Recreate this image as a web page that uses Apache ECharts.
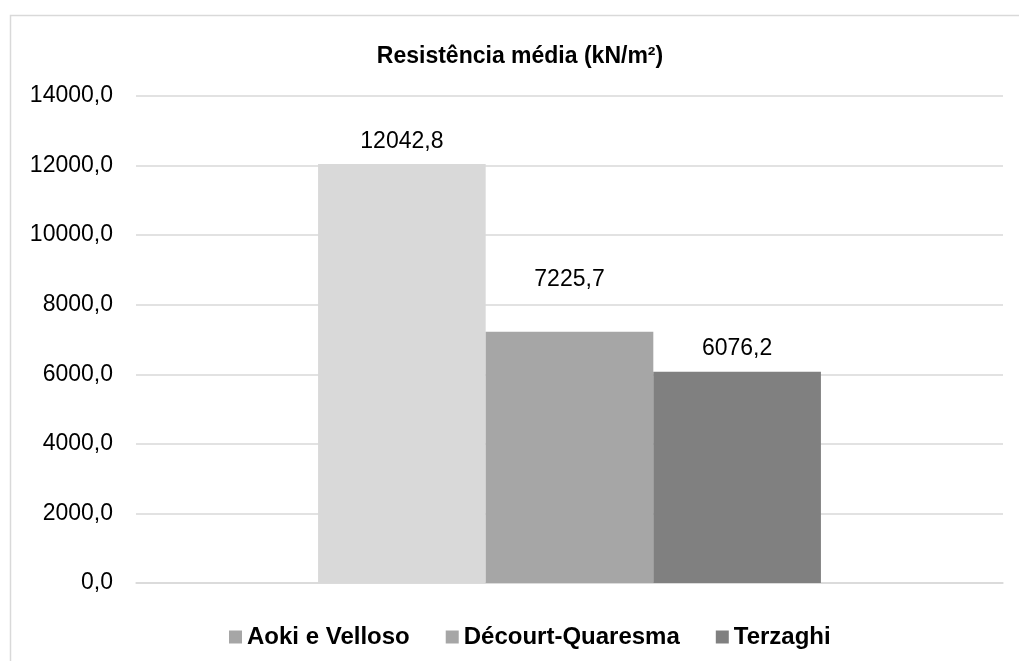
<!DOCTYPE html>
<html>
<head>
<meta charset="utf-8">
<script src="https://cdn.jsdelivr.net/npm/echarts@6/dist/echarts.min.js"></script>
<style>html,body{margin:0;padding:0;background:#fff}#c{width:1019px;height:661px}</style>
</head>
<body>
<div id="c"></div>
<script>
const categories = [''];
const seriesNames = ['Aoki e Velloso', 'Décourt-Quaresma', 'Terzaghi'];
const seriesValues = [[12042.8], [7225.7], [6076.2]];
const barColors = ['#d9d9d9', '#a6a6a6', '#808080'];
const legendColors = ['#a6a6a6', '#a6a6a6', '#808080'];
const labelDistances = [11, 40, 11];
const titleText = 'Resistência média (kN/m²)';
const yMin = 0, yMax = 14000, yStep = 2000;

const fmt = v => Number(v).toFixed(1).replace('.', ',');
const FONT = '"Liberation Sans", Arial, sans-serif';

const chart = echarts.init(document.getElementById('c'), null, {renderer: 'canvas'});
chart.setOption({
  animation: false,
  backgroundColor: '#fff',
  graphic: [{
    type: 'rect', silent: true, z: -1,
    shape: {x: 10.5, y: 15.5, width: 1100, height: 800},
    style: {fill: 'none', stroke: '#d9d9d9', lineWidth: 1.5}
  }],
  title: {
    text: titleText, left: 515, top: 40, textAlign: 'center',
    textStyle: {fontFamily: FONT, fontSize: 23, fontWeight: 'bold', color: '#000', lineHeight: 23}
  },
  legend: {
    left: 224, top: 620, itemWidth: 13, itemHeight: 13, itemGap: 36,
    icon: 'rect',
    textStyle: {fontFamily: FONT, fontSize: 24, fontWeight: 'bold', color: '#000'},
    data: seriesNames.map((n, i) => ({name: n, itemStyle: {color: legendColors[i]}}))
  },
  grid: {left: 136, right: 16, top: 96, bottom: 78},
  xAxis: {
    type: 'category', data: categories,
    axisLine: {show: true, lineStyle: {color: '#d9d9d9', width: 1.5}},
    axisTick: {show: false}, axisLabel: {show: false}
  },
  yAxis: {
    type: 'value', min: yMin, max: yMax, interval: yStep,
    axisLine: {show: false}, axisTick: {show: false},
    axisLabel: {formatter: fmt, margin: 23, fontFamily: FONT, fontSize: 23, color: '#000'},
    splitLine: {lineStyle: {color: '#d9d9d9', width: 1.5}}
  },
  series: seriesNames.map((n, i) => ({
    name: n, type: 'bar', data: seriesValues[i],
    barGap: '0%', barCategoryGap: '42%',
    itemStyle: {color: barColors[i]},
    label: {show: true, position: 'top', distance: labelDistances[i], formatter: p => fmt(p.value),
      fontFamily: FONT, fontSize: 23, color: '#000', lineHeight: 23}
  }))
});
</script>
</body>
</html>
